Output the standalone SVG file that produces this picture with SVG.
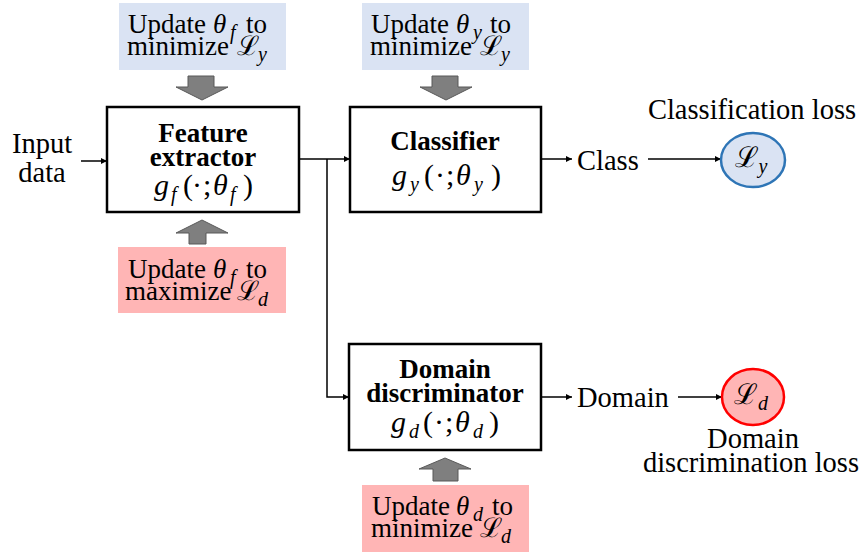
<svg xmlns="http://www.w3.org/2000/svg" width="868" height="554" viewBox="0 0 868 554" font-family="'Liberation Serif', 'Times New Roman', Times, 'DejaVu Serif', serif">
  <defs>
    <marker id="arrow" viewBox="0 0 10 10" refX="10" refY="5" markerWidth="6" markerHeight="6" markerUnits="userSpaceOnUse" orient="auto">
      <path d="M0,0 L10,5 L0,10 z" fill="#000"/>
    </marker>
    <style>
      text { font-size: 28.5px; fill: #000; }
      .bold { font-weight: bold; font-size: 27px; }
      .note { font-size: 27px; }
      .it { font-style: italic; }
      .sub { font-style: italic; font-size: 20px; }
      .math { font-size: 30px; }
      .box { fill: #fff; stroke: #000; stroke-width: 2.5; }
      .blue { fill: #DAE3F3; }
      .pink { fill: #FFB5B5; }
      .gray { fill: #7F7F7F; stroke: #595959; stroke-width: 1; }
      .wire { fill: none; stroke: #000; stroke-width: 1.5; }
    </style>
  </defs>
  <rect width="868" height="554" fill="#fff"/>

  <!-- connectors -->
  <g id="connectors">
    <path class="wire" d="M81,161 L107,161" marker-end="url(#arrow)"/>
    <path class="wire" d="M299,159 L350,159" marker-end="url(#arrow)"/>
    <path class="wire" d="M327,159 L327,397 L349,397" marker-end="url(#arrow)"/>
    <path class="wire" d="M541,159 L572,159" marker-end="url(#arrow)"/>
    <path class="wire" d="M648,159 L721,159" marker-end="url(#arrow)"/>
    <path class="wire" d="M541,397 L572,397" marker-end="url(#arrow)"/>
    <path class="wire" d="M678,397 L722,397" marker-end="url(#arrow)"/>
  </g>

  <!-- update arrows -->
  <g id="update-arrows">
    <path class="gray" d="M188,76 L214,76 L214,87 L228,87 L202,100 L176,87 L188,87 z"/>
    <path class="gray" d="M432,76 L458,76 L458,87 L472,87 L446,100 L420,87 L432,87 z"/>
    <path class="gray" d="M189,244 L206,244 L206,233 L228,233 L202,220 L176,233 L189,233 z"/>
    <path class="gray" d="M433,481 L458,481 L458,469 L471,469 L445,458 L419,469 L433,469 z"/>
  </g>

  <!-- input label -->
  <g id="input">
    <text x="42" y="153" text-anchor="middle">Input</text>
    <text x="42" y="182" text-anchor="middle">data</text>
  </g>

  <!-- feature extractor -->
  <g id="feature-extractor">
    <rect class="box" x="107" y="107" width="192" height="105"/>
    <text class="bold" x="203" y="142" text-anchor="middle">Feature</text>
    <text class="bold" x="203" y="166" text-anchor="middle">extractor</text>
    <text class="math" y="195"><tspan class="it" x="154">g</tspan><tspan class="sub" x="171" dy="6">f</tspan><tspan x="183" dy="-6">(</tspan><tspan x="192">·</tspan><tspan x="203">;</tspan><tspan class="it" x="213">θ</tspan><tspan class="sub" x="230" dy="6">f</tspan><tspan x="243" dy="-6">)</tspan></text>
  </g>

  <!-- classifier -->
  <g id="classifier">
    <rect class="box" x="350" y="107" width="191" height="105"/>
    <text class="bold" x="445" y="150" text-anchor="middle">Classifier</text>
    <text class="math" y="185"><tspan class="it" x="392">g</tspan><tspan class="sub" x="410" dy="6">y</tspan><tspan x="424" dy="-6">(</tspan><tspan x="435">·</tspan><tspan x="446">;</tspan><tspan class="it" x="456">θ</tspan><tspan class="sub" x="474" dy="6">y</tspan><tspan x="491" dy="-6">)</tspan></text>
  </g>

  <!-- domain discriminator -->
  <g id="domain-discriminator">
    <rect class="box" x="349" y="344" width="192" height="106"/>
    <text class="bold" x="445" y="378" text-anchor="middle">Domain</text>
    <text class="bold" x="445" y="402" text-anchor="middle">discriminator</text>
    <text class="math" y="432"><tspan class="it" x="391">g</tspan><tspan class="sub" x="409" dy="6">d</tspan><tspan x="423" dy="-6">(</tspan><tspan x="434">·</tspan><tspan x="445">;</tspan><tspan class="it" x="455">θ</tspan><tspan class="sub" x="473" dy="6">d</tspan><tspan x="489" dy="-6">)</tspan></text>
  </g>

  <!-- update notes -->
  <g id="note-fe-min">
    <rect class="blue" x="119" y="3" width="167" height="67"/>
    <text class="note" y="33"><tspan x="128">Update</tspan><tspan class="it" x="213">θ</tspan><tspan class="sub" x="230" dy="6">f</tspan><tspan x="246" dy="-6">to</tspan></text>
    <text class="note" y="55"><tspan x="127">minimize</tspan><tspan x="237">ℒ</tspan><tspan class="sub" x="258" dy="6">y</tspan></text>
  </g>
  <g id="note-cls-min">
    <rect class="blue" x="362" y="3" width="167" height="67"/>
    <text class="note" y="33"><tspan x="371">Update</tspan><tspan class="it" x="456">θ</tspan><tspan class="sub" x="473" dy="6">y</tspan><tspan x="490" dy="-6">to</tspan></text>
    <text class="note" y="55"><tspan x="370">minimize</tspan><tspan x="480">ℒ</tspan><tspan class="sub" x="501" dy="6">y</tspan></text>
  </g>
  <g id="note-fe-max">
    <rect class="pink" x="118" y="247" width="168" height="66"/>
    <text class="note" y="278"><tspan x="128">Update</tspan><tspan class="it" x="213">θ</tspan><tspan class="sub" x="230" dy="6">f</tspan><tspan x="246" dy="-6">to</tspan></text>
    <text class="note" y="300"><tspan x="125">maximize</tspan><tspan x="237">ℒ</tspan><tspan class="sub" x="258" dy="6">d</tspan></text>
  </g>
  <g id="note-dd-min">
    <rect class="pink" x="362" y="485" width="167" height="67"/>
    <text class="note" y="515"><tspan x="372">Update</tspan><tspan class="it" x="456">θ</tspan><tspan class="sub" x="473" dy="6">d</tspan><tspan x="492" dy="-6">to</tspan></text>
    <text class="note" y="537"><tspan x="371">minimize</tspan><tspan x="480">ℒ</tspan><tspan class="sub" x="501" dy="6">d</tspan></text>
  </g>

  <!-- outputs -->
  <g id="class-out">
    <text x="577" y="170">Class</text>
  </g>
  <g id="domain-out">
    <text x="577" y="407">Domain</text>
  </g>

  <!-- losses -->
  <g id="loss-y">
    <text x="752" y="119" text-anchor="middle">Classification loss</text>
    <ellipse cx="753" cy="160" rx="32" ry="27" fill="#DAE3F3" stroke="#2E75B6" stroke-width="2.5"/>
    <text x="751" y="167" text-anchor="middle"><tspan>ℒ</tspan><tspan class="sub" dy="6">y</tspan></text>
  </g>
  <g id="loss-d">
    <text x="753" y="448" text-anchor="middle">Domain</text>
    <text x="751" y="472" text-anchor="middle">discrimination loss</text>
    <ellipse cx="753" cy="397" rx="31" ry="28" fill="#FFB5B5" stroke="#FF0000" stroke-width="2.5"/>
    <text x="751" y="404" text-anchor="middle"><tspan>ℒ</tspan><tspan class="sub" dy="6">d</tspan></text>
  </g>
</svg>
